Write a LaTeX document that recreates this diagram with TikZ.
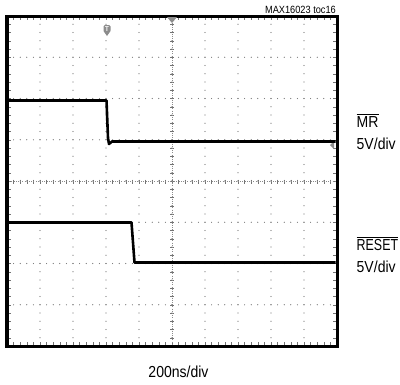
\documentclass[tikz,border=0pt]{standalone}
\usepackage{fontspec}
\setmainfont{Liberation Sans}[FakeStretch=0.88]
\newfontfamily\narrowf{Liberation Sans}[FakeStretch=0.78]
\begin{document}
\begin{tikzpicture}[x=1bp,y=-1bp,
  lbl/.style={inner sep=0pt,font=\fontsize{16}{18}\selectfont},
  griddot/.style={fill=black!55},
  tickln/.style={draw=black!55,line width=0.5bp},
  trace/.style={draw=black,line width=2.6bp,line join=round},
  marker/.style={fill=black!45}]
\useasboundingbox (0,0) rectangle (400,385);
% grid dots
\foreach \k in {1,...,9}{
  \foreach \m in {1,...,39}{
    \fill[griddot] ({7+33*\k},{16+8.25*\m}) circle (0.6);
  }
}
\foreach \k in {1,...,7}{
  \foreach \m in {1,...,49}{
    \fill[griddot] ({7+6.6*\m},{16+41.25*\k}) circle (0.6);
  }
}
% center axis ticks
\foreach \m in {1,...,49}{
  \draw[tickln] ({7+6.6*\m},179.5) -- ({7+6.6*\m},183.5);
  \draw[tickln] ({7+6.6*\m},17) -- ({7+6.6*\m},20);
  \draw[tickln] ({7+6.6*\m},345) -- ({7+6.6*\m},342);
}
\foreach \m in {1,...,39}{
  \draw[tickln] (170,{16+8.25*\m}) -- (174,{16+8.25*\m});
  \draw[tickln] (8,{16+8.25*\m}) -- (11,{16+8.25*\m});
  \draw[tickln] (336,{16+8.25*\m}) -- (333,{16+8.25*\m});
}
\draw[draw=black!45,line width=0.5bp,dash pattern=on 1bp off 1.2bp] (7,181.25) -- (337,181.25);
\draw[draw=black!45,line width=0.5bp,dash pattern=on 1bp off 1.2bp] (172,16) -- (172,346);
% frame
\draw[line width=3bp] (7,16) rectangle (337,346);
% markers
\fill[marker] (167,17) -- (177,17) -- (172,23) -- cycle;
\fill[marker,rounded corners=1.5] (103.5,25) rectangle (110.5,32);
\fill[marker] (103.5,31) -- (110.5,31) -- (107,36) -- cycle;
\node[inner sep=0pt,text=white,font=\fontsize{7}{7}\selectfont\bfseries] (tm) at (107,29.5) {T};
\fill[marker] (330,145) -- (334,141) -- (334,149) -- cycle;
% traces
\coordinate (m0) at (8.5,100.5);
\coordinate (m1) at (106.5,100.5);
\coordinate (m2) at (109,144);
\coordinate (m3) at (112,141.5);
\coordinate (m4) at (335.5,141.5);
\draw[trace] (m0) -- (m1) -- (108,138) -- (m2) -- (m3) -- (m4);
\coordinate (r0) at (8.5,222.5);
\coordinate (r1) at (131.5,222.5);
\coordinate (r2) at (134.5,262.5);
\coordinate (r3) at (335.5,262.5);
\draw[trace] (r0) -- (r1) -- (r2) -- (r3);
% labels
\node[inner sep=0pt,anchor=base east,font=\fontsize{10.5}{12}\selectfont] (toc) at (336,13) {MAX16023 toc16};
\node[lbl,anchor=base west] (mr) at (356.5,127) {$\overline{\mbox{MR}}$};
\node[lbl,anchor=base west] (mrs) at (356.5,149) {5V/div};
\node[lbl,anchor=base west] (rs) at (356.5,250) {$\overline{\mbox{\narrowf RESET}}$};
\node[lbl,anchor=base west] (rss) at (356.5,272) {5V/div};
\node[lbl,anchor=base] (tb) at (178.5,377) {200ns/div};
\end{tikzpicture}
\end{document}
